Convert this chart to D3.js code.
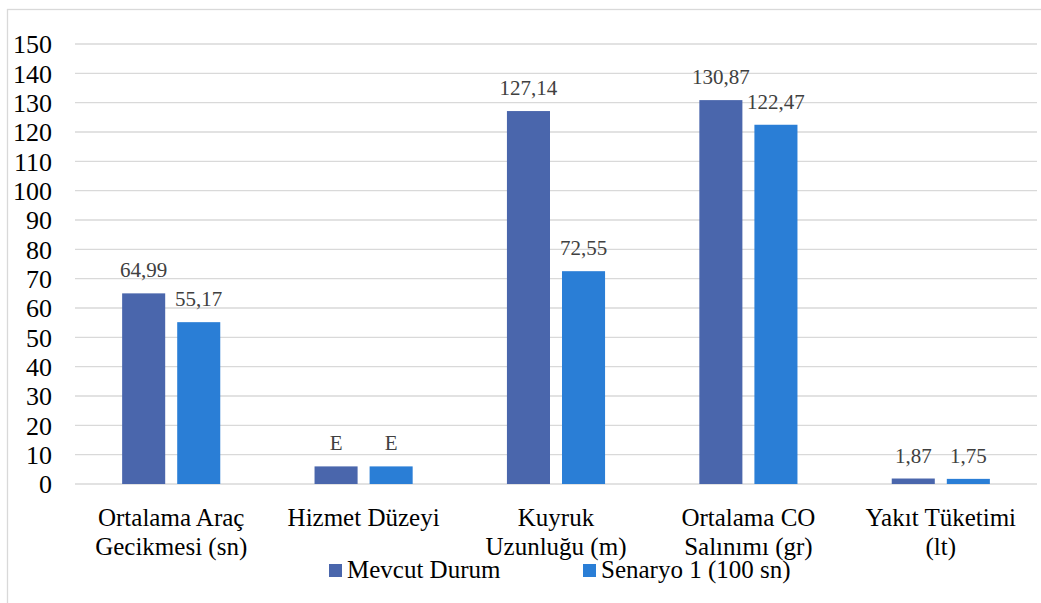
<!DOCTYPE html>
<html>
<head>
<meta charset="utf-8">
<script src="https://cdn.jsdelivr.net/npm/d3@7"></script>
</head>
<body style="margin:0;background:#fff">
<svg id="fig" width="1041" height="603" style="display:block"></svg>
<script>
// Category labels, split into display lines
const categories = [
  ["Ortalama Araç", "Gecikmesi (sn)"],
  ["Hizmet Düzeyi"],
  ["Kuyruk", "Uzunluğu (m)"],
  ["Ortalama CO", "Salınımı (gr)"],
  ["Yakıt Tüketimi", "(lt)"]
];
const seriesNames = ["Mevcut Durum", "Senaryo 1 (100 sn)"];
const mevcutValues = [64.99, 6, 127.14, 130.87, 1.87];
const senaryoValues = [55.17, 6, 72.55, 122.47, 1.75];
const mevcutLabels = ["64,99", "E", "127,14", "130,87", "1,87"];
const senaryoLabels = ["55,17", "E", "72,55", "122,47", "1,75"];
const yTicks = [0, 10, 20, 30, 40, 50, 60, 70, 80, 90, 100, 110, 120, 130, 140, 150];

const colors = ["#4a66ac", "#2a7ed6"];
const textFont = '"Liberation Serif", "Nimbus Roman", FreeSerif, serif';

// Apply the serif face to a text selection
function serifText(sel, size) {
  sel.style("font-family", textFont, "important")
     .style("font-size", size + "px", "important");
  return sel;
}

const svg = d3.select("#fig");
const plot = { left: 75, right: 1037, top: 44, bottom: 484 };

// Outer frame (only top and left edges fall inside the view)
svg.append("rect")
  .attr("x", 7.5).attr("y", 9.5)
  .attr("width", 1060).attr("height", 620)
  .attr("fill", "none").attr("stroke", "#d9d9d9").attr("stroke-width", 1.3);

const y = d3.scaleLinear().domain([0, 150]).range([plot.bottom, plot.top]);
const catIdx = d3.range(categories.length);
const x0 = d3.scaleBand().domain(catIdx).range([plot.left, plot.right])
  .paddingInner(0.49).paddingOuter(0.245);
const x1 = d3.scaleBand().domain([0, 1]).range([0, x0.bandwidth()])
  .paddingInner(12 / 55);

// Gridlines
svg.append("g").selectAll("line").data(yTicks).join("line")
  .attr("x1", plot.left).attr("x2", plot.right)
  .attr("y1", d => y(d)).attr("y2", d => y(d))
  .attr("stroke", "#d9d9d9").attr("stroke-width", 1.3);

// Y axis tick labels
const yAxis = d3.axisLeft(y).tickValues(yTicks).tickSize(0).tickPadding(0);
const yg = svg.append("g").attr("transform", "translate(52,0)").call(yAxis);
yg.attr("font-family", null).attr("font-size", null);
yg.select(".domain").remove();
serifText(yg.selectAll("text"), 26)
  .attr("fill", "#000")
  .attr("dy", "0.34em");

// Bars and value labels
const seriesData = [
  { values: mevcutValues, labels: mevcutLabels },
  { values: senaryoValues, labels: senaryoLabels }
];
seriesData.forEach((s, si) => {
  const g = svg.append("g");
  g.selectAll("rect").data(catIdx).join("rect")
    .attr("x", i => x0(i) + x1(si))
    .attr("width", x1.bandwidth())
    .attr("y", i => y(s.values[i]))
    .attr("height", i => y(0) - y(s.values[i]))
    .attr("fill", colors[si]);
  const lbl = g.selectAll("text").data(catIdx).join("text")
    .attr("x", i => x0(i) + x1(si) + x1.bandwidth() / 2)
    .attr("y", i => y(s.values[i]) - 16)
    .attr("text-anchor", "middle")
    .attr("fill", "#404040")
    .text(i => s.labels[i]);
  serifText(lbl, 21);
});

// Category labels
const xg = svg.append("g");
categories.forEach((lines, i) => {
  const t = xg.append("text")
    .attr("x", x0(i) + x0.bandwidth() / 2)
    .attr("y", 526)
    .attr("text-anchor", "middle")
    .attr("fill", "#000");
  serifText(t, 25);
  lines.forEach((ln, li) => {
    t.append("tspan")
      .attr("x", x0(i) + x0.bandwidth() / 2)
      .attr("dy", li === 0 ? 0 : 29)
      .text(ln);
  });
});

// Legend
const legendX = [329, 583];
const lg = svg.append("g");
seriesNames.forEach((name, si) => {
  lg.append("rect")
    .attr("x", legendX[si]).attr("y", 564)
    .attr("width", 13).attr("height", 13)
    .attr("fill", colors[si]);
  const t = lg.append("text")
    .attr("x", legendX[si] + 18).attr("y", 578)
    .attr("fill", "#000")
    .text(name);
  serifText(t, 25);
});
</script>
</body>
</html>
